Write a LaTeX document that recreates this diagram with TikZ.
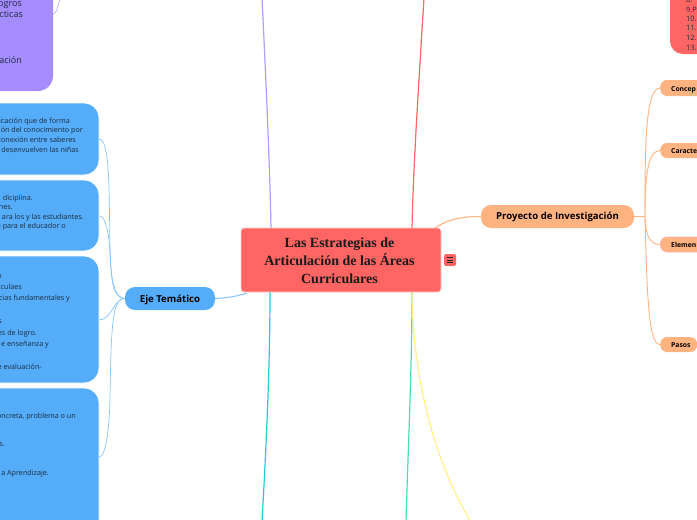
\documentclass[tikz,border=0pt]{standalone}
\usepackage{fontspec}
\setmainfont{Liberation Serif}
\newfontfamily\noto{Open Sans}
\definecolor{cblue}{HTML}{55ACF9}
\definecolor{cpurple}{HTML}{A58CFF}
\definecolor{corange}{HTML}{FFB380}
\definecolor{cred}{HTML}{FF6663}
\definecolor{ccyan}{HTML}{1CCFDD}
\definecolor{cteal}{HTML}{45DDB2}
\definecolor{cyel}{HTML}{FFF08A}
\definecolor{ink}{HTML}{1C2B3A}
\tikzset{
  big/.style={draw=white,line width=.8pt,rounded corners=15pt,inner sep=0},
  frag/.style={anchor=base east,inner sep=0,font=\noto\fontsize{7.2}{8}\selectfont,text=ink},
  fragp/.style={anchor=base east,inner sep=0,font=\noto\fontsize{9}{10}\selectfont,text=ink},
  fragr/.style={anchor=base west,inner sep=0,font=\noto\fontsize{7.4}{8}\selectfont,text=ink},
  lbl/.style={inner sep=0,font=\noto\bfseries\fontsize{9.6}{11}\selectfont,text=black},
  sub/.style={anchor=base west,inner sep=0,font=\noto\bfseries\fontsize{6.8}{8}\selectfont,text=black},
  pill/.style={fill=#1,rounded corners=10pt,draw=none},
  spill/.style={fill=#1,rounded corners=7pt,draw=none},
  bl/.style={draw=cblue!70,line width=.7pt},
  ol/.style={draw=corange,line width=.9pt},
  trunk/.style={line width=1.2pt},
}
\begin{document}
\begin{tikzpicture}[x=1pt,y=-1pt]
\useasboundingbox (0,0) rectangle (697,520);
\clip (0,0) rectangle (697,520);
\coordinate (pTop) at (262,-2);
\coordinate (rTop) at (424,-2);
\coordinate (cBot) at (262,522);
\coordinate (gBot) at (406,522);
\coordinate (yBot) at (471,522);
\coordinate (pv) at (60,-2);
\fill[cpurple,rounded corners=15pt] (-30,-30) rectangle (53,91);
\coordinate (purpleR) at (53,14);
\draw[big,fill=cblue] (-30,103) rectangle (99,175);
\draw[big,fill=cblue] (-30,180) rectangle (99,251);
\draw[big,fill=cblue] (-30,256) rectangle (99,383);
\draw[big,fill=cblue] (-30,388) rectangle (99,535);
\fill[cred,rounded corners=13pt] (670,-30) rectangle (720,54);
\coordinate (b1) at (99,139);
\coordinate (b2) at (99,216);
\coordinate (b3) at (99,320);
\coordinate (b4) at (99,457);
\draw[draw=cpurple!80,line width=.6pt] (purpleR) .. controls (57,14) and (58,5) .. (pv);
\draw[draw=cpurple!85,trunk] (pTop) .. controls (266,80) and (270,170) .. (271,229);
\draw[draw=cred,trunk] (rTop) .. controls (419,80) and (413,170) .. (412,229);
\draw[draw=ccyan,trunk] (270,291) .. controls (270,370) and (266,450) .. (cBot);
\draw[draw=cteal,trunk] (412,291) .. controls (412,370) and (408,450) .. (gBot);
\draw[draw=cyel,trunk] (412,291) .. controls (413,400) and (445,480) .. (yBot);
\node[pill=cblue,minimum width=90pt,minimum height=23pt,inner sep=0] (eje) at (170,298.5) {};
\node[lbl] (ejet) at (170,299.5) {Eje Temático};
\draw[bl,line width=1.1pt] (247,293) .. controls (235,297) and (225,298) .. (eje.east);
\draw[bl] (eje.west) .. controls (114,298) and (111,285) .. (110,250) .. controls (109,190) and (110,139) .. (b1);
\draw[bl] (eje.west) .. controls (114,298) and (111,280) .. (110,250) .. controls (108,225) and (104,216) .. (b2);
\draw[bl] (eje.west) .. controls (114,298) and (112,320) .. (b3);
\draw[bl] (eje.west) .. controls (113,298) and (111,320) .. (110,400) .. controls (109,435) and (105,457) .. (b4);
\node[pill=corange,minimum width=153pt,minimum height=23pt,inner sep=0] (proy) at (557.5,216.5) {};
\node[lbl] (proyt) at (557.5,217) {Proyecto de Investigación};
\node[spill=corange,minimum width=60pt,minimum height=16pt,inner sep=0,anchor=west] (c1) at (660,88) {};
\node[spill=corange,minimum width=60pt,minimum height=15pt,inner sep=0,anchor=west] (c2) at (660,150.5) {};
\node[spill=corange,draw=pink!90!red,line width=.6pt,minimum width=60pt,minimum height=15pt,inner sep=0,anchor=west] (c3) at (660,244.5) {};
\node[spill=corange,minimum width=37pt,minimum height=15pt,inner sep=0,anchor=west] (c4) at (660,344.5) {};
\draw[ol,line width=1.1pt] (435,228) .. controls (450,218) and (465,216.5) .. (proy.west);
\draw[ol] (proy.east) -- (645,216.5);
\draw[ol] (645,216.5) .. controls (645,150) and (645,88) .. (c1.west);
\draw[ol] (645,216.5) .. controls (645,180) and (647,150.5) .. (c2.west);
\draw[ol] (645,216.5) .. controls (645,235) and (650,244.5) .. (c3.west);
\draw[ol] (645,216.5) .. controls (647,290) and (648,344.5) .. (c4.west);
\node[sub] (c1t) at (671,91) {Concep};
\node[sub] (c2t) at (671,153) {Caracte};
\node[sub] (c3t) at (671,247) {Elemen};
\node[sub] (c4t) at (671,347) {Pasos};
\node[draw=white!70!cred,line width=.8pt,fill=cred,rounded corners=3pt,minimum width=200pt,minimum height=64pt,inner sep=0] (main) at (341,260) {};
\node[align=center,inner sep=0,font=\bfseries\fontsize{14}{18}\selectfont,text=black!90] (maint) at (339.5,261) {Las Estrategias de\\Articulación de las Áreas\\Curriculares};
\node[fill=cred,rounded corners=2pt,minimum size=12pt,inner sep=0] (icon) at (450,260) {};
\draw[black!85,line width=.7pt] (446.7,257.5) -- (453.3,257.5) (446.7,260) -- (453.3,260) (446.7,262.5) -- (453.3,262.5);
\node[fragp] (p1) at (22,6) {logros};
\node[fragp] (p2) at (23,17) {cticas};
\node[fragp] (p3) at (22,63) {nación};
\node[frag] (a1) at (70,123) {icación que de forma};
\node[frag] (a2) at (83,132.5) {ión del conocimiento por};
\node[frag] (a3) at (76,142) {conexión entre saberes};
\node[frag] (a4) at (79,152) {desenvuelven las niñas};
\node[frag] (b1t) at (33,200) {diciplina.};
\node[frag] (b2t) at (13,209.5) {nes.};
\node[frag] (b3t) at (84,219) {ara los y las estudiantes.};
\node[frag] (b4t) at (66,228.5) {e para el educador o};
\node[frag] (d1) at (2,278) {o};
\node[frag] (d2) at (22,289) {iculaes};
\node[frag] (d3) at (70,300.5) {cias fundamentales y};
\node[frag] (d4) at (2,323) {s};
\node[frag] (d5) at (37,335) {es de logro.};
\node[frag] (d6) at (49,346) {e enseñanza y};
\node[frag] (d7) at (42,369) {e evaluación-};
\node[frag] (e1) at (76,418) {oncreta, problema o un};
\node[frag] (e2) at (5,446) {s.};
\node[frag] (e3) at (49,475) {a Aprendizaje.};
\node[fragr] (r0) at (686,2) {8.};
\node[fragr] (r1) at (686,12) {9.P};
\node[fragr] (r2) at (686,21) {10.};
\node[fragr] (r3) at (686,30.5) {11.};
\node[fragr] (r4) at (686,40) {12.};
\node[fragr] (r5) at (686,50) {13.};
\end{tikzpicture}
\end{document}
